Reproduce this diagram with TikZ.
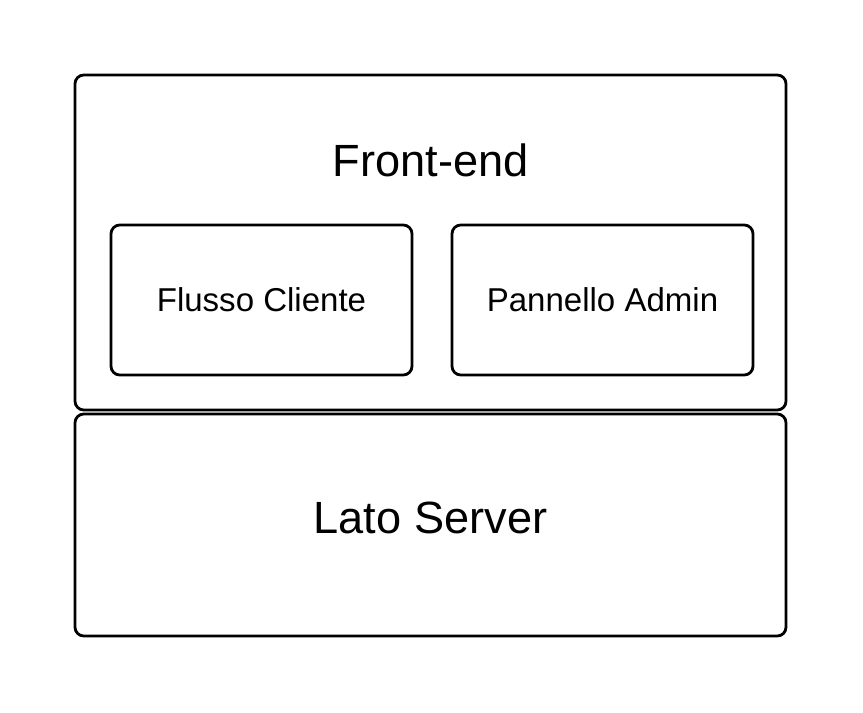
\documentclass[tikz,border=0pt]{standalone}
\usepackage{fontspec}
\setmainfont{Liberation Sans}
\usepackage{tikz}
\usetikzlibrary{positioning}
\tikzset{
  layer/.style={draw=black, line width=1.6pt, rounded corners=5pt, minimum width=14.22cm, align=center},
  module/.style={draw=black, line width=1.6pt, rounded corners=5pt, minimum width=6.02cm, minimum height=3.0cm, align=center, font=\fontsize{18.8}{22}\selectfont},
  title/.style={font=\fontsize{25.7}{30}\selectfont, inner sep=0pt}
}
\begin{document}
\begin{tikzpicture}
  \useasboundingbox (0,0) rectangle (17.26,-14.26);
  \node[layer, minimum height=6.7cm] (front) at (8.61,-4.85) {};
  \node[layer, minimum height=4.44cm] (server) at (8.61,-10.5) {};

  \node[title] (fronttitle) at (8.61,-3.2) {Front-end};
  \node[title] (servertitle) at (8.61,-10.36) {Lato Server};

  \node[module] (cliente) at (5.23,-6.0) {Flusso Cliente};
  \node[module] (admin) at (12.05,-6.0) {Pannello Admin};
\end{tikzpicture}
\end{document}
